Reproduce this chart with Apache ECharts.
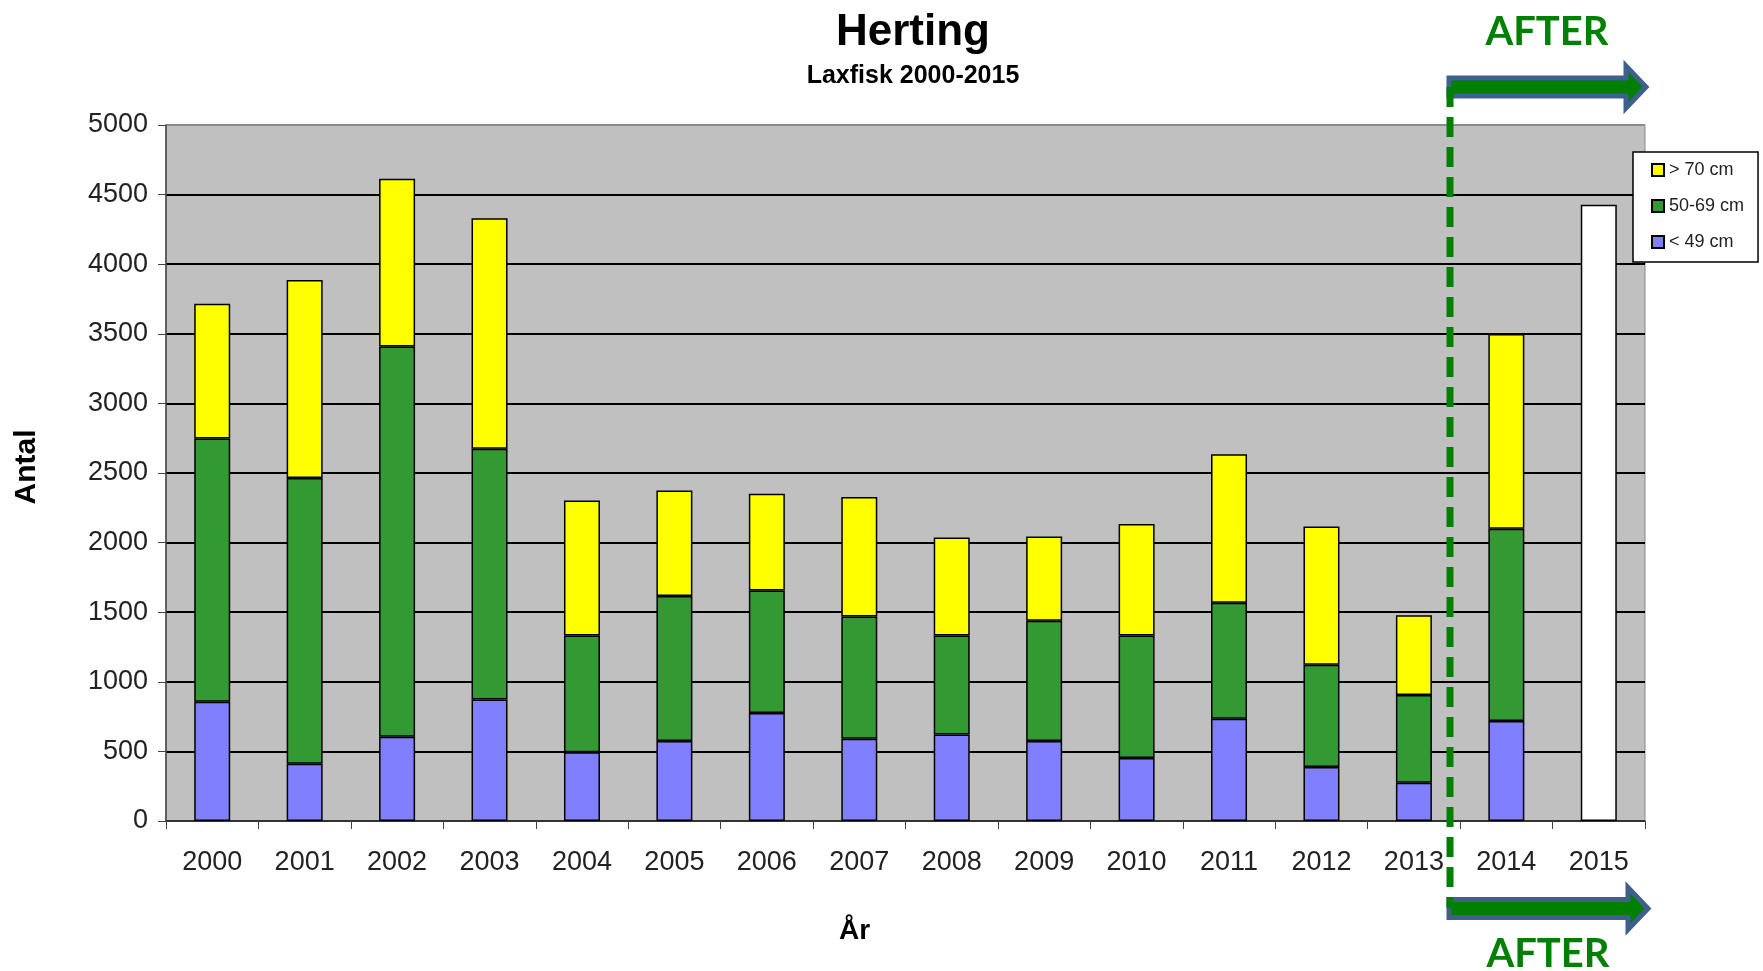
<!DOCTYPE html>
<html>
<head>
<meta charset="utf-8">
<script src="https://cdn.jsdelivr.net/npm/echarts@6/dist/echarts.min.js"></script>
<style>
html,body{margin:0;padding:0;background:#fff;}
#c{width:1763px;height:971px;}
</style>
</head>
<body>
<div id="c"></div>
<script>
// ---- data ----
var years = ['2000','2001','2002','2003','2004','2005','2006','2007','2008','2009','2010','2011','2012','2013','2014','2015'];
var under49 = [856, 412, 606, 872, 493, 574, 776, 590, 622, 574, 452, 735, 388, 275, 719, '-'];
var mid5069 = [1891, 2052, 2803, 1802, 840, 1042, 880, 880, 711, 864, 881, 832, 735, 630, 1381, '-'];
var over70 = [969, 1422, 1204, 1656, 969, 759, 695, 857, 703, 606, 800, 1067, 993, 573, 1398, '-'];
var total2015 = ['-','-','-','-','-','-','-','-','-','-','-','-','-','-','-', 4427];
var yTicks = [0, 500, 1000, 1500, 2000, 2500, 3000, 3500, 4000, 4500, 5000];
var legendNames = ['> 70 cm', '50-69 cm', '< 49 cm'];

var chart = echarts.init(document.getElementById('c'), null, {renderer: 'canvas'});

var FONT = '"Liberation Sans", Arial, sans-serif';
var gridColors = yTicks.map(function (v, i) { return i === yTicks.length - 1 ? '#8a8a8a' : '#000'; });

function bar(name, data, color, stack) {
  return {
    name: name, type: 'bar', stack: stack, data: data, barWidth: 36, barGap: '-100%',
    itemStyle: { color: color, borderColor: '#000', borderWidth: 1.5 },
    emphasis: { disabled: true }
  };
}

var option = {
  animation: false,
  backgroundColor: '#fff',
  title: {
    text: 'Herting', subtext: 'Laxfisk 2000-2015',
    left: 908, top: 0, textAlign: 'center', itemGap: 9, padding: [11, 5, 5, 5],
    textStyle: { fontFamily: FONT, fontWeight: 'bold', fontSize: 44, color: '#000' },
    subtextStyle: { fontFamily: FONT, fontWeight: 'bold', fontSize: 25, color: '#000' }
  },
  legend: {
    data: legendNames, orient: 'vertical', left: 1633, top: 152,
    backgroundColor: '#fff', borderColor: '#000', borderWidth: 1.5,
    padding: [9, 14, 11, 18], itemGap: 18, itemWidth: 12, itemHeight: 12,
    icon: 'rect',
    textStyle: { fontFamily: FONT, fontSize: 18, color: '#222' },
    selectedMode: false
  },
  grid: {
    left: 166, right: 118, top: 125, bottom: 150, show: true,
    backgroundColor: '#c0c0c0', borderColor: '#8a8a8a', borderWidth: 1
  },
  xAxis: {
    type: 'category', data: years,
    name: 'År', nameLocation: 'middle', nameGap: 96,
    nameTextStyle: { fontFamily: FONT, fontWeight: 'bold', fontSize: 28, color: '#000', padding: [0, 102, 0, 0] },
    axisLine: { lineStyle: { color: '#444', width: 1.5 } },
    axisTick: { show: true, length: 8, lineStyle: { color: '#444' } },
    axisLabel: { fontFamily: FONT, fontSize: 27, color: '#222', margin: 28 }
  },
  yAxis: {
    type: 'value', min: 0, max: 5000, interval: 500,
    name: 'Antal', nameLocation: 'middle', nameGap: 124, nameRotate: 90,
    nameTextStyle: { fontFamily: FONT, fontWeight: 'bold', fontSize: 30, color: '#000', padding: [0, 0, 0, 12] },
    axisLine: { show: true, lineStyle: { color: '#444', width: 1.5 } },
    axisTick: { show: true, length: 8, lineStyle: { color: '#444' } },
    axisLabel: { fontFamily: FONT, fontSize: 27, color: '#222', margin: 18, formatter: function (v) { return String(v); } },
    splitLine: { show: true, lineStyle: { color: gridColors, width: 2 } }
  },
  series: [
    bar('< 49 cm', under49, '#8080ff', 'a'),
    bar('50-69 cm', mid5069, '#339933', 'a'),
    bar('> 70 cm', over70, '#ffff00', 'a'),
    bar('2015', total2015, '#ffffff', 'b')
  ],
  graphic: [
    { type: 'polygon', z: 100,
      shape: { points: [[1449,78],[1626,78],[1626,66],[1646,87],[1626,108],[1626,96],[1449,96]] },
      style: { fill: '#008000', stroke: '#3f5f8c', lineWidth: 5, lineJoin: 'miter' } },
    { type: 'polygon', z: 100,
      shape: { points: [[1449,899.5],[1628,899.5],[1628,887.5],[1648,908.5],[1628,929.5],[1628,917.5],[1449,917.5]] },
      style: { fill: '#008000', stroke: '#3f5f8c', lineWidth: 5, lineJoin: 'miter' } },
    { type: 'line', z: 101,
      shape: { x1: 1450, y1: 87, x2: 1450, y2: 908 },
      style: { stroke: '#008000', lineWidth: 7, lineDash: [20, 10] } },
    { type: 'text', z: 101, x: 1547, y: 32,
      style: { text: 'AFTER', fill: '#008000', font: 'bold 40px Lato, "Open Sans", sans-serif', textAlign: 'center', textVerticalAlign: 'middle' } },
    { type: 'text', z: 101, x: 1548, y: 954,
      style: { text: 'AFTER', fill: '#008000', font: 'bold 40px Lato, "Open Sans", sans-serif', textAlign: 'center', textVerticalAlign: 'middle' } }
  ]
};
chart.setOption(option);
</script>
</body>
</html>
